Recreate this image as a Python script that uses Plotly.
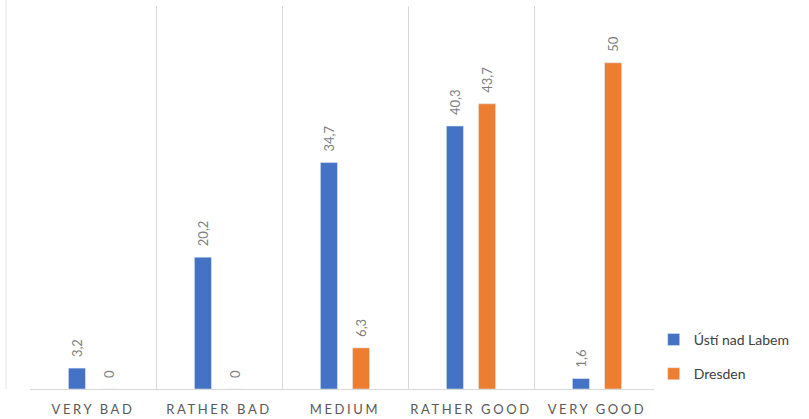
import plotly.graph_objects as go

categories = ["VERY BAD", "RATHER BAD", "MEDIUM", "RATHER GOOD", "VERY GOOD"]
usti = [3.2, 20.2, 34.7, 40.3, 1.6]
dresden = [0, 0, 6.3, 43.7, 50]

BLUE = "#4472C4"
ORANGE = "#ED7D31"
FONT = "Lato, Open Sans, sans-serif"


def fmt(v):
    return f"{v:g}".replace(".", ",")


fig = go.Figure()
fig.add_trace(go.Bar(name="Ústí nad Labem", x=categories, y=usti,
                     marker_color=BLUE, legendgroup="a"))
fig.add_trace(go.Bar(name="Dresden", x=categories, y=dresden,
                     marker_color=ORANGE, legendgroup="b"))

# data labels, rotated, sitting above each bar
shift = 0.127
for i, v in enumerate(usti):
    fig.add_annotation(x=i - shift, y=v, text=fmt(v), textangle=-90,
                       showarrow=False, yanchor="bottom", yshift=9,
                       font=dict(size=13, color="#7f7f7f", family=FONT))
for i, v in enumerate(dresden):
    fig.add_annotation(x=i + shift, y=v, text=fmt(v), textangle=-90,
                       showarrow=False, yanchor="bottom", yshift=9,
                       font=dict(size=13, color="#7f7f7f", family=FONT))

# faint outer border line on the far left
fig.add_shape(type="line", xref="paper", yref="paper", x0=-0.038, x1=-0.038,
              y0=0, y1=1.05, line=dict(color="#e3e3e3", width=1))

fig.update_layout(
    width=809, height=419,
    margin=dict(l=30, r=149, t=6, b=30, autoexpand=False),
    paper_bgcolor="white", plot_bgcolor="white",
    barmode="group", bargap=0.49, bargroupgap=0.47,
    font=dict(family=FONT, color="#595959"),
    showlegend=True,
    legend=dict(x=0.99, y=0.17, xanchor="left", yanchor="top",
                tracegroupgap=13, font=dict(size=14, color="#404040"),
                itemwidth=30),
    xaxis=dict(tickson="boundaries", showgrid=True, gridcolor="#d9d9d9",
               gridwidth=1, showline=True, linecolor="#d9d9d9",
               ticks="", ticklabelstandoff=8,
               tickfont=dict(size=13, color="#595959")),
    yaxis=dict(range=[0, 58.7], showgrid=False, showticklabels=False,
               zeroline=False, showline=False),
)

fig.write_html("out.html", config={"displayModeBar": False},
               post_script="document.body.style.margin='0';"
                           "document.querySelectorAll('.xtick text').forEach(function(t){t.style.letterSpacing='2.6px';});")
